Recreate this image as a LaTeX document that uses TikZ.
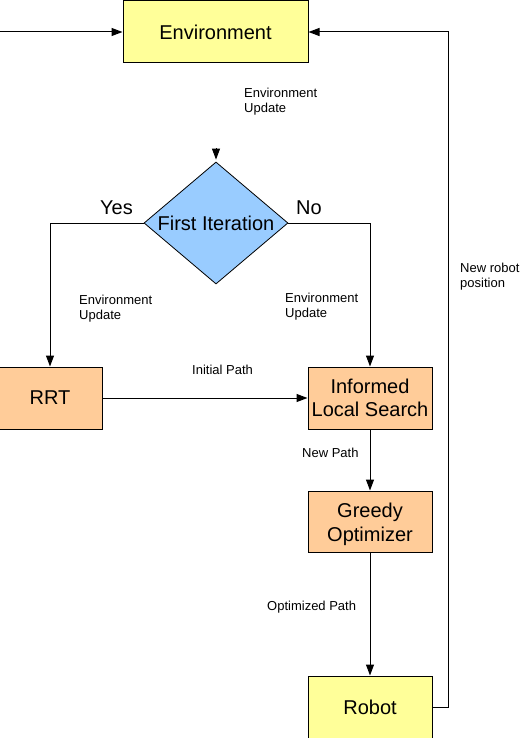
\documentclass[tikz,border=0pt]{standalone}
\usepackage{fontspec}
\setmainfont{Liberation Sans}
\usetikzlibrary{arrows.meta,shapes.geometric}
\definecolor{boxyellow}{HTML}{FFFF99}
\definecolor{boxorange}{HTML}{FFCC99}
\definecolor{boxblue}{HTML}{99CCFF}
\tikzset{
  procbox/.style={draw=black, line width=1pt, inner sep=0pt, align=center,
    font=\fontsize{20}{23.5}\selectfont},
  arr/.style={draw=black, line width=1pt, -{Triangle[length=11pt,width=8pt]}},
  smalllabel/.style={anchor=north west, inner sep=0pt, align=left,
    font=\fontsize{13}{15}\selectfont},
  biglabel/.style={anchor=north west, inner sep=0pt,
    font=\fontsize{20}{23}\selectfont}
}
\begin{document}
\begin{tikzpicture}[x=1pt,y=-1pt]
\useasboundingbox (0,0) rectangle (522,738);

% boxes
\node[procbox, fill=boxyellow, minimum width=185pt, minimum height=62pt] (env) at (215.5,32) {Environment};
\node[diamond, draw=black, line width=0.8pt, fill=boxblue, minimum width=144pt, minimum height=122pt, inner sep=0pt] (fi) at (216,223) {};
\node[inner sep=0pt, font=\fontsize{20}{23}\selectfont] (fitext) at (fi.center) {First Iteration};
\node[procbox, fill=boxorange, minimum width=104pt, minimum height=62pt] (rrt) at (50,398) {RRT};
\node[procbox, fill=boxorange, minimum width=124pt, minimum height=62pt] (ils) at (370,398) {Informed\\Local Search};
\node[procbox, fill=boxorange, minimum width=124pt, minimum height=61pt] (greedy) at (370,521.5) {};
\node[procbox, draw=none] (greedytext) at (370,524.5) {Greedy\\Optimizer};
\node[procbox, fill=boxyellow, minimum width=124pt, minimum height=62pt] (robot) at (370,707) {Robot};

% free ends
\coordinate (inL) at (-1,32);
\coordinate (dtop) at (216,148.5);
\coordinate (rr) at (448,707);

% connectors
\draw[arr] (inL) -- (env.west);
\draw[arr] (robot.east) -- (rr) |- (env.east);
\draw[draw=black, line width=1pt, -{Triangle[length=11pt,width=8pt]}, shorten >=2pt] (dtop) -- (fi.north);
\draw[arr] (fi.west) -| (rrt.north);
\draw[arr] (fi.east) -| (ils.north);
\draw[arr] (rrt.east) -- (ils.west);
\draw[arr] (ils.south) -- (greedy.north);
\draw[arr] (greedy.south) -- (robot.north);

% labels
\node[smalllabel] (l1) at (244,88) {Environment\\Update};
\node[biglabel] (yes) at (100,201) {Yes};
\node[biglabel] (no) at (296,201) {No};
\node[smalllabel] (l2) at (79,295) {Environment\\Update};
\node[smalllabel] (l3) at (285,293) {Environment\\Update};
\node[smalllabel] (l4) at (460,263) {New robot\\position};
\node[smalllabel] (l5) at (192,365) {Initial Path};
\node[smalllabel] (l6) at (302,448) {New Path};
\node[smalllabel] (l7) at (267,601) {Optimized Path};
\end{tikzpicture}
\end{document}
